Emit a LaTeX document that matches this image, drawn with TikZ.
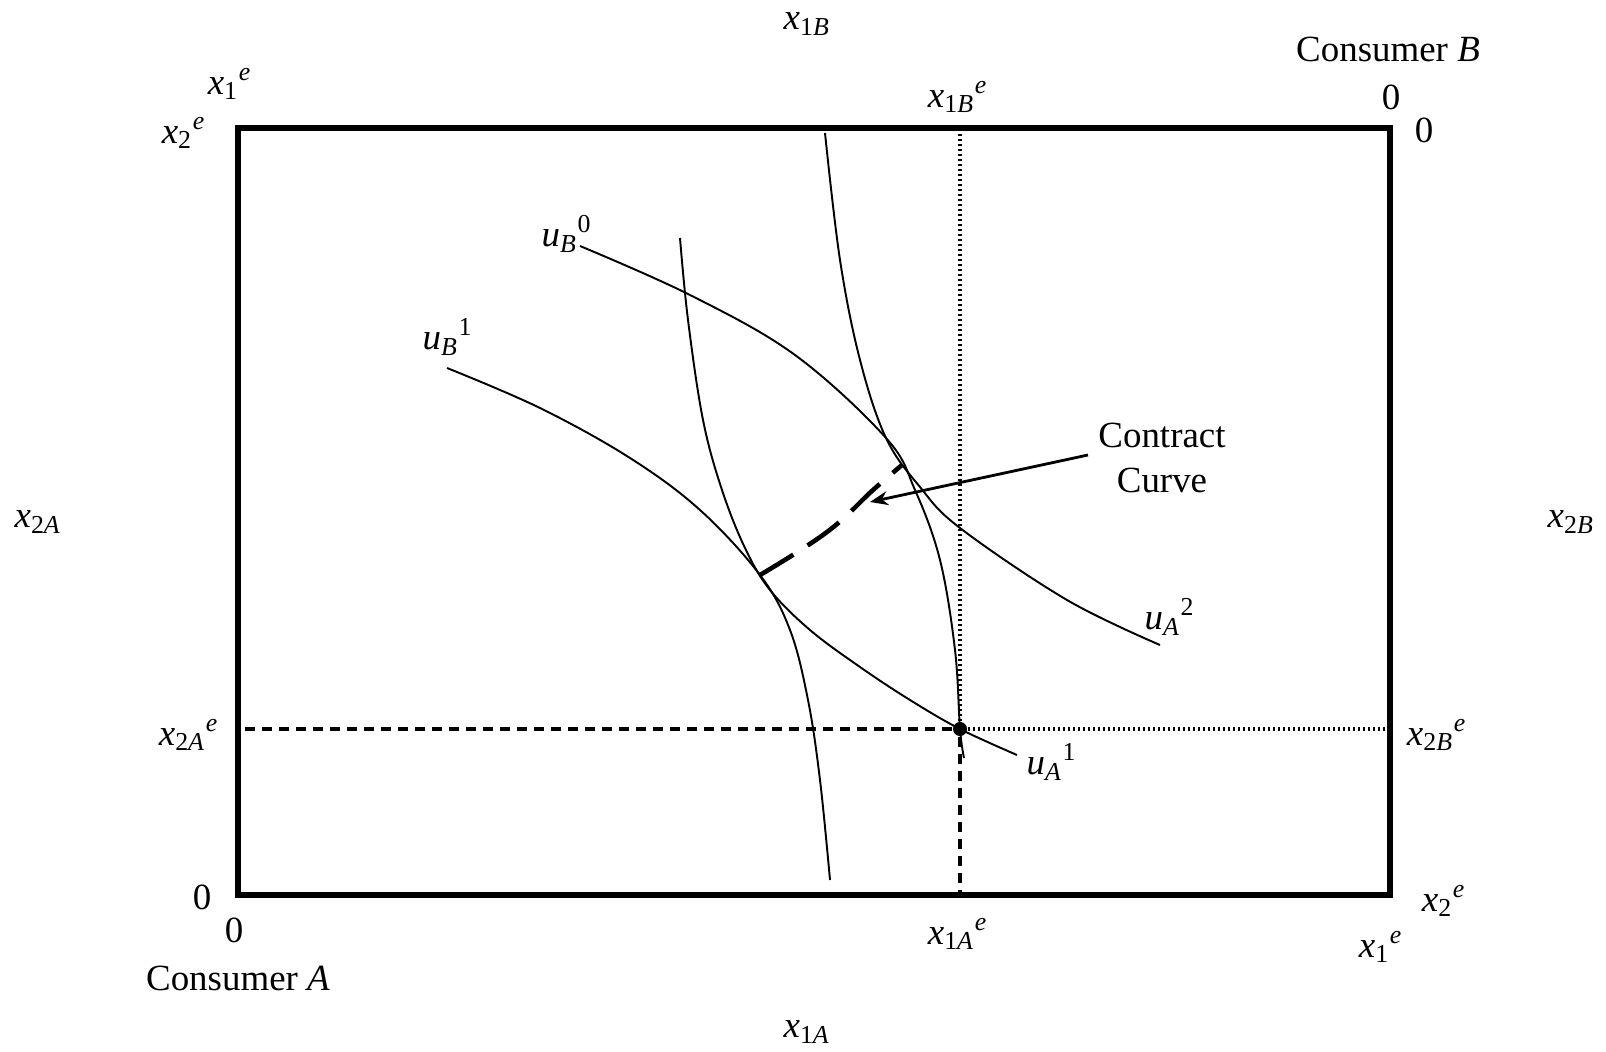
\documentclass[tikz,border=0pt]{standalone}
\usepackage{fontspec}
\setmainfont{Liberation Serif}
\usetikzlibrary{arrows.meta}

\newcommand{\vlab}[3]{\textit{#1}\textsubscript{#2}\textsuperscript{#3}}

\begin{document}
\begin{tikzpicture}[x=0.01cm, y=-0.01cm,
  frame/.style={line width=1.6pt},
  indiff/.style={line width=0.55pt},
  contract/.style={line width=1.3pt, dash pattern=on 0.39cm off 0.17cm},
  guide/.style={line width=0.95pt, dash pattern=on 0.1cm off 0.07cm},
  faint/.style={line width=0.9pt, dash pattern=on 0.022cm off 0.028cm},
  txt/.style={font=\fontsize{10.5}{12}\selectfont, inner sep=0pt},
  dot/.style={circle, fill, inner sep=0pt, minimum size=0.14cm},
]
\useasboundingbox (0,0) rectangle (1606,1052);

% ===== Box =====
\coordinate (oA) at (238,895);
\coordinate (oB) at (1390,128);
\draw[frame] (oA) rectangle (oB);

% ===== Endowment =====
\node[dot] (endow) at (960,729) {};
\draw[guide] (endow) -- (endow -| oA);
\draw[guide] (endow) -- (endow |- oA);
\draw[faint] (endow) -- (endow -| oB);
\draw[faint] (endow) -- (endow |- oB);

% ===== Indifference curves =====
% u_B^0 through the endowment
\draw[indiff] plot[smooth, tension=0.6] coordinates {(580,246) (690,295) (795,355)
  (886,438) (915,490) (940,560) (955,650) (960,729) (964,758)};
% u_A^2
\draw[indiff] plot[smooth, tension=0.6] coordinates {(825,133) (840,260) (860,360)
  (886,438) (920,487) (960,528) (1067,600) (1160,645)};
% u_A^1 through the endowment
\draw[indiff] plot[smooth, tension=0.6] coordinates {(680,238) (688,320) (703,420)
  (722,490) (745,548) (770,590) (810,630) (860,667) (910,700) (960,729) (1017,755)};
% u_B^1
\draw[indiff] plot[smooth, tension=0.6] coordinates {(447,368) (540,408) (630,458)
  (700,510) (760,575) (790,630) (808,700) (820,780) (830,880)};

% ===== Contract curve =====
\coordinate (cc1) at (760,575);
\coordinate (cc2) at (902,465);
\draw[contract] plot[smooth, tension=0.7] coordinates {(cc1) (827,532) (873,490) (cc2)};

\node[txt, align=center] (ccname) at (1162,458) {Contract\\[1pt]Curve};
\coordinate (ccfrom) at (1088,455);
\coordinate (cctip) at (870,502);
\draw[line width=0.8pt, -{Stealth[length=0.18cm, width=0.14cm]}] (ccfrom) -- (cctip);

% ===== Curve labels =====
\node[txt] (uB0) at (567,234) {\vlab{u}{\textit{B}}{0}};
\node[txt] (uB1) at (448,337) {\vlab{u}{\textit{B}}{1}};
\node[txt] (uA1) at (1052,762) {\vlab{u}{\textit{A}}{1}};
\node[txt] (uA2) at (1170,617) {\vlab{u}{\textit{A}}{2}};

% ===== Axis labels =====
\node[txt] (x1B) at (808,24) {\vlab{x}{1\textit{B}}{}};
\node[txt] (x1A) at (808,1032) {\vlab{x}{1\textit{A}}{}};
\node[txt] (x2A) at (39,522) {\vlab{x}{2\textit{A}}{}};
\node[txt] (x2B) at (1572,522) {\vlab{x}{2\textit{B}}{}};

\node[txt] (x1Be) at (958,97) {\vlab{x}{1\textit{B}}{\textit{e}}};
\node[txt] (x1Ae) at (958,934) {\vlab{x}{1\textit{A}}{\textit{e}}};
\node[txt] (x2Ae) at (189,735) {\vlab{x}{2\textit{A}}{\textit{e}}};
\node[txt] (x2Be) at (1437,735) {\vlab{x}{2\textit{B}}{\textit{e}}};

\node[txt] (x1eTL) at (230,84) {\vlab{x}{1}{\textit{e}}};
\node[txt] (x2eTL) at (184,133) {\vlab{x}{2}{\textit{e}}};
\node[txt] (x2eBR) at (1444,901) {\vlab{x}{2}{\textit{e}}};
\node[txt] (x1eBR) at (1381,947) {\vlab{x}{1}{\textit{e}}};

% ===== Origins =====
\node[txt] (zA1) at (202,897) {0};
\node[txt] (zA2) at (234,930) {0};
\node[txt] (zB1) at (1391,97) {0};
\node[txt] (zB2) at (1424,130) {0};
\node[txt] (consA) at (238,978) {Consumer \textit{A}};
\node[txt] (consB) at (1388,49) {Consumer \textit{B}};

\end{tikzpicture}
\end{document}
